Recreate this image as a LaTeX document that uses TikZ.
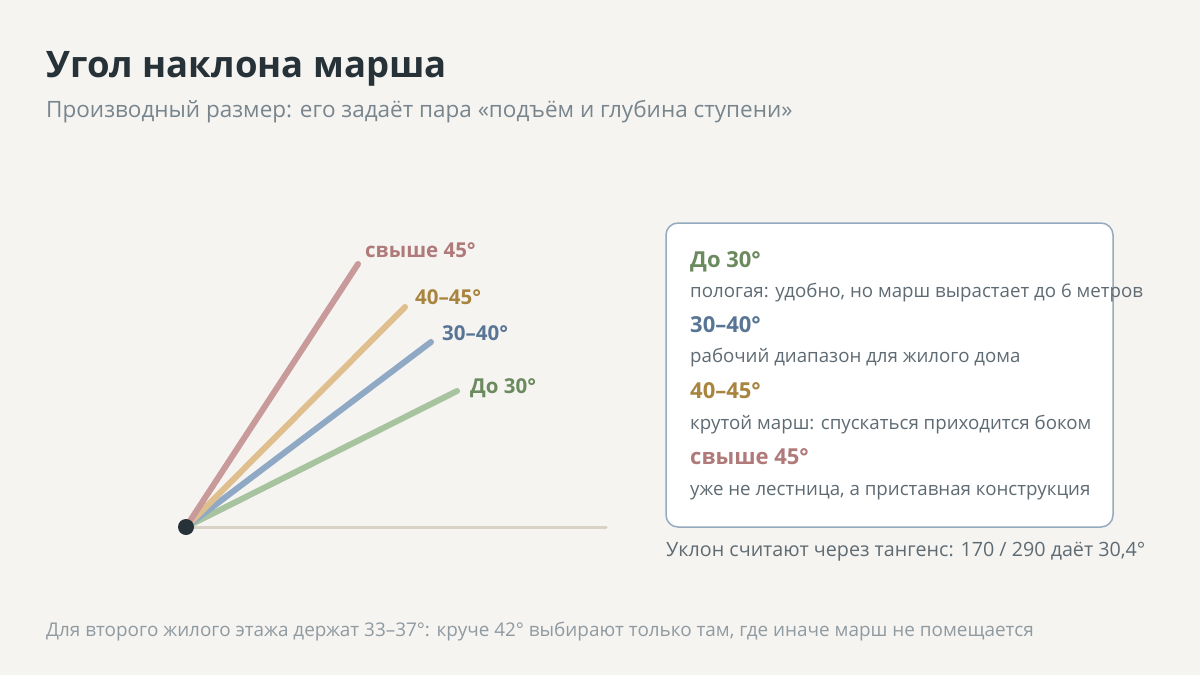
\documentclass[tikz,border=0pt]{standalone}
\usepackage{fontspec}
\setmainfont{Open Sans}
\usetikzlibrary{positioning}
\definecolor{bg}{HTML}{F5F4F1}
\definecolor{ink}{HTML}{263238}
\definecolor{muted}{HTML}{78858D}
\definecolor{body}{HTML}{5F6B73}
\definecolor{faint}{HTML}{8F9AA1}
\definecolor{roseL}{HTML}{C99A9A}
\definecolor{roseT}{HTML}{B07A7A}
\definecolor{sandL}{HTML}{E0BF8F}
\definecolor{sandT}{HTML}{A8843F}
\definecolor{blueL}{HTML}{8FA9C5}
\definecolor{blueT}{HTML}{587595}
\definecolor{sageL}{HTML}{A8C3A0}
\definecolor{sageT}{HTML}{6B8A5E}
\definecolor{frame}{HTML}{95A9BF}
\definecolor{ground}{HTML}{D8D1C5}
\tikzset{
ray/.style = {line width=6pt, line cap=round},
tag/.style = {anchor=base west, inner sep=0pt, font=\fontsize{20.5}{24}\selectfont\bfseries},
head/.style = {anchor=base west, inner sep=0pt, font=\fontsize{22}{26}\selectfont\bfseries},
desc/.style = {anchor=base west, inner sep=0pt, text=body, font=\fontsize{18.7}{22}\selectfont},
legend/.style = {draw=frame, line width=1.5pt, fill=white, rounded corners=12pt},
}

\begin{document}
\begin{tikzpicture}[x=1pt, y=-1pt]

	\useasboundingbox[fill=bg] (0,0) rectangle (1200,675);

	% title
	\node[anchor=base west, inner sep=0pt, text=ink, font=\fontsize{36.5}{44}\selectfont\bfseries] (title) at (46,77) {Угол наклона марша};
	\node[anchor=base west, inner sep=0pt, text=muted, font=\fontsize{22.5}{26}\selectfont] (subtitle) at (46,117) {Производный размер: его задаёт пара «подъём и глубина ступени»};

	% rays
	\coordinate (O) at (186,527);
	\coordinate (endBase) at (606,527);
	\coordinate (endRose) at (358,264);
	\coordinate (endSand) at (405,307);
	\coordinate (endBlue) at (431,342);
	\coordinate (endSage) at (457,391);
	\draw[line width=3pt, ground, line cap=round] (O) -- (endBase);
	\draw[ray, sageL] (O) -- (endSage);
	\draw[ray, blueL] (O) -- (endBlue);
	\draw[ray, sandL] (O) -- (endSand);
	\draw[ray, roseL] (O) -- (endRose);
	\node[circle, fill=ink, minimum size=16pt, inner sep=0pt] (origin) at (O) {};

	\node[tag, text=roseT] (tRose) at (365,257) {свыше 45°};
	\node[tag, text=sandT] (tSand) at (415,304) {40–45°};
	\node[tag, text=blueT] (tBlue) at (442,340) {30–40°};
	\node[tag, text=sageT] (tSage) at (470,393) {До 30°};

	% legend box
	\draw[legend] (666,223) rectangle (1113,527);
	\node[head, text=sageT] (h1) at (690,267) {До 30°};
	\node[desc] (d1) at (690,297) {пологая: удобно, но марш вырастает до 6 метров};
	\node[head, text=blueT] (h2) at (690,332) {30–40°};
	\node[desc] (d2) at (690,362) {рабочий диапазон для жилого дома};
	\node[head, text=sandT] (h3) at (690,398) {40–45°};
	\node[desc] (d3) at (690,429) {крутой марш: спускаться приходится боком};
	\node[head, text=roseT] (h4) at (690,464) {свыше 45°};
	\node[desc] (d4) at (690,495) {уже не лестница, а приставная конструкция};

	\node[anchor=base west, inner sep=0pt, text=body, font=\fontsize{19.7}{23}\selectfont] (note) at (666,556) {Уклон считают через тангенс: 170 / 290 даёт 30,4°};

	% footer
	\node[anchor=base west, inner sep=0pt, text=faint, font=\fontsize{18.9}{22}\selectfont] (footer) at (46,636) {Для второго жилого этажа держат 33–37°: круче 42° выбирают только там, где иначе марш не помещается};

\end{tikzpicture}
\end{document}
